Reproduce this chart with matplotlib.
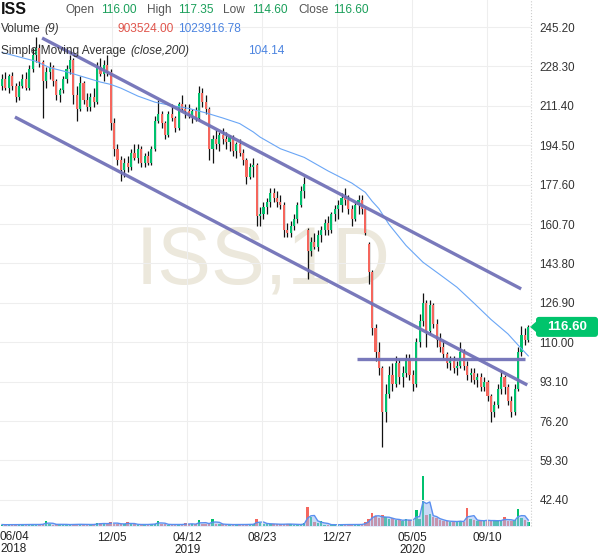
import matplotlib
matplotlib.use('Agg')
import matplotlib.pyplot as plt
from matplotlib.patches import FancyBboxPatch, Polygon
from matplotlib.transforms import IdentityTransform
import numpy as np
import pandas as pd

plt.rcParams['font.family'] = ['Liberation Sans', 'DejaVu Sans']

# ISS, one candle per ~4 trading days, 06/2018 - 11/2020
opens = [220, 223, 219, 224, 220, 215, 220, 223, 219, 227, 233, 236, 230, 222, 226, 228, 222, 216, 218, 223,
         227, 231, 216, 210, 221, 214, 211, 215, 213, 228, 225, 229, 226, 204, 193, 188, 184, 187, 185, 191,
         189, 193, 187, 190, 187, 193, 205, 208, 204, 199, 208, 206, 202, 212, 210, 209, 207, 209, 206, 217,
         213, 210, 193, 197, 195, 199, 197, 196, 198, 192, 195, 191, 188, 181, 185, 186, 164, 165, 168, 170,
         174, 172, 170, 169, 158, 157, 160, 163, 169, 175, 158, 149, 153, 151, 156, 158, 161, 158, 165, 167,
         169, 172, 171, 167, 163, 169, 171, 167, 152, 140, 116, 106, 99, 80, 88, 96, 92, 101, 95, 97,
         103, 96, 92, 110, 119, 127, 115, 126, 118, 111, 108, 105, 101, 102, 99, 100, 106, 100, 96, 97,
         94, 95, 91, 93, 87, 80, 83, 90, 95, 91, 85, 80, 90, 106, 113, 111]
highs = [225, 226, 225, 226, 221, 222, 225, 226, 229, 236, 241, 238, 231, 228, 230, 229, 223, 219, 224, 229,
         233, 232, 220, 224, 222, 217, 217, 219, 230, 232, 231, 233, 227, 206, 195, 190, 189, 190, 193, 195,
         195, 194, 191, 192, 194, 207, 214, 209, 205, 209, 212, 207, 213, 216, 212, 212, 210, 211, 220, 219,
         216, 211, 199, 201, 200, 202, 200, 199, 199, 196, 197, 193, 189, 187, 189, 187, 168, 170, 172, 176,
         176, 175, 173, 170, 161, 162, 165, 170, 177, 181, 159, 155, 157, 158, 160, 163, 164, 166, 169, 171,
         174, 176, 173, 169, 170, 173, 173, 168, 153, 141, 118, 110, 100, 92, 100, 101, 104, 103, 100, 105,
         105, 98, 112, 122, 131, 128, 128, 127, 120, 114, 111, 106, 104, 104, 102, 110, 107, 102, 99, 99,
         97, 97, 95, 94, 88, 85, 92, 98, 96, 92, 87, 92, 108, 117, 116, 117.35]
lows = [218, 218, 217, 218, 213, 214, 219, 218, 218, 226, 230, 228, 206, 219, 223, 220, 214, 213, 217, 221,
        225, 212, 205, 209, 212, 209, 209, 211, 212, 224, 222, 224, 201, 190, 186, 179, 181, 183, 184, 188,
        187, 185, 185, 186, 186, 192, 204, 202, 197, 198, 205, 200, 201, 209, 206, 206, 204, 205, 205, 211,
        208, 188, 187, 193, 192, 195, 193, 192, 190, 189, 190, 186, 178, 180, 181, 160, 160, 163, 165, 168,
        170, 168, 167, 155, 155, 155, 158, 161, 168, 172, 137, 147, 150, 149, 153, 156, 156, 157, 162, 163,
        166, 169, 165, 160, 162, 165, 165, 156, 135, 113, 102, 96, 65, 76, 86, 89, 91, 92, 91, 95,
        94, 89, 91, 108, 117, 108, 113, 116, 108, 106, 103, 99, 98, 97, 96, 99, 98, 94, 93, 92,
        91, 89, 89, 85, 76, 78, 82, 88, 88, 83, 78, 79, 89, 104, 109, 110]
closes = [223, 219, 224, 220, 215, 220, 223, 219, 227, 233, 236, 230, 222, 226, 228, 222, 216, 218, 223, 227,
          231, 216, 210, 221, 214, 211, 215, 213, 228, 225, 229, 226, 204, 193, 188, 184, 187, 185, 191, 189,
          193, 187, 190, 187, 193, 205, 208, 204, 199, 208, 206, 202, 212, 210, 209, 207, 209, 206, 217, 213,
          210, 193, 197, 195, 199, 197, 196, 198, 192, 195, 191, 188, 181, 185, 186, 164, 165, 168, 170, 174,
          172, 170, 169, 158, 157, 160, 163, 169, 175, 178, 149, 153, 151, 156, 158, 161, 158, 165, 167, 169,
          172, 171, 167, 163, 169, 171, 167, 157, 140, 116, 106, 99, 80, 88, 96, 92, 101, 95, 97, 103,
          96, 92, 110, 119, 127, 115, 126, 118, 111, 108, 105, 101, 102, 99, 100, 106, 100, 96, 97, 94,
          95, 91, 93, 87, 80, 83, 90, 95, 91, 85, 80, 90, 106, 113, 111, 116.6]
# volume in millions of shares
volumes = [0.3, 0.25, 0.3, 0.3, 0.25, 0.3, 0.3, 0.3, 0.35, 0.3, 0.3, 0.35, 0.4, 1.0, 0.4, 0.3, 0.35, 0.4, 0.3, 0.3,
           0.3, 0.35, 0.3, 0.4, 0.3, 0.3, 0.35, 0.3, 0.55, 0.6, 0.4, 0.5, 0.8, 0.5, 0.5, 0.4, 0.4, 0.8, 0.4, 0.35,
           0.3, 0.3, 0.35, 0.3, 0.4, 0.5, 1.0, 0.4, 0.35, 0.3, 0.3, 0.35, 0.3, 0.3, 0.55, 0.4, 0.4, 0.35, 1.2, 0.5,
           0.4, 0.6, 1.4, 0.5, 0.4, 0.35, 0.3, 0.3, 0.3, 0.3, 0.3, 0.35, 0.3, 0.35, 0.4, 1.4, 0.6, 0.5, 0.5, 0.4,
           0.4, 0.35, 0.35, 0.4, 0.45, 0.35, 0.3, 0.3, 0.35, 0.6, 4.0, 1.8, 0.8, 0.6, 1.0, 0.3, 0.3, 0.25, 0.25, 0.3,
           0.3, 0.3, 0.3, 0.3, 0.3, 0.3, 0.35, 0.8, 1.5, 2.8, 2.0, 1.6, 2.2, 1.8, 1.5, 1.6, 1.2, 1.3, 1.1, 1.4,
           1.2, 1.0, 3.4, 1.5, 10.4, 2.2, 2.5, 1.8, 1.6, 1.2, 1.1, 1.0, 0.9, 1.0, 0.9, 1.1, 0.8, 3.8, 1.5, 1.2,
           1.0, 1.2, 1.1, 1.3, 1.0, 1.1, 1.2, 1.1, 1.8, 1.1, 1.0, 1.3, 3.6, 1.6, 1.2, 0.9]

# 200-day simple moving average, read at candle positions
sma_pos = [0, 10, 14, 19, 24, 29, 32, 35, 40, 45, 50, 55, 60, 65, 70, 74, 76, 82, 89, 96, 103,
           107, 109, 111, 114, 119, 124, 129, 134, 139, 144, 149, 152, 155]
sma_val = [234.3, 230.5, 227.8, 226.0, 223.8, 221.6, 220.6, 219.0, 215.6, 213.0, 211.5, 210.3, 208.4,
           206.2, 203.8, 200.2, 198.0, 193.0, 189.3, 183.5, 178.3, 174.3, 170.5, 167.3, 160.5, 151.5,
           144.3, 139.0, 133.6, 126.8, 119.8, 113.6, 108.8, 104.14]

# drawn trend lines: (candle positions, prices)
upper_x, upper_y = [11.8, 152.9], [240.5, 132.9]
lower_x, lower_y = [3.8, 154.7], [206.6, 91.7]
flat_x, flat_y = [104.6, 154.1], [103.0, 103.0]

# last session shown in the header
last_ohlc = [116.00, 117.35, 114.60, 116.60]
last_vol, last_vol_ma = 903524.00, 1023916.78

price_ticks = [245.20, 228.30, 211.40, 194.50, 177.60, 160.70, 143.80, 126.90, 110.00, 93.10, 76.20, 59.30, 42.40]
date_pos = [32.4, 54.5, 76.6, 98.7, 120.8, 142.9]
date_labels = ['12/05', '04/12\n2019', '08/23', '12/27', '05/05\n2020', '09/10']
first_label = '06/04\n2018'

UP = '#00c16e'
DOWN = '#f5665d'
TXT_GREEN = '#1a9f5a'
TXT_RED = '#e0554c'
TXT_BLUE = '#4c84e0'

W, H = 600, 558
fig = plt.figure(figsize=(W / 100, H / 100), dpi=100)
ax = fig.add_axes([0, 32 / H, 531 / W, 526 / H])
vax = ax.twinx()
ax.set_zorder(2)
ax.patch.set_visible(False)

x = np.arange(len(closes))
o = np.array(opens, float)
c = np.array(closes, float)
up = c >= o
cols = np.where(up, UP, DOWN)

# volume + its moving average
vol = np.array(volumes)
vax.bar(x, vol, width=0.75, color=cols, linewidth=0)
vma = pd.Series(vol).rolling(3, min_periods=1).mean()
vax.fill_between(x, 0, vma, color='#9dbdf2', alpha=0.55, linewidth=0)
vax.plot(x, vma, color='#5a8ff0', lw=1.0)
vax.set_ylim(0, 110)
vax.set_yticks([])
for s in vax.spines.values():
    s.set_visible(False)

# watermark
ax.text(0.495, 0.5, 'ISS,1D', transform=ax.transAxes, ha='center', va='center',
        fontsize=58, color='#ece8dc', zorder=0)

# candles
ax.vlines(x, lows, highs, color='#111111', lw=0.9, zorder=3)
body = np.maximum(np.abs(c - o), 0.4)
ax.bar(x, body, bottom=np.minimum(o, c), width=0.62, color=cols, linewidth=0, zorder=4)

# SMA and drawn lines
ax.plot(sma_pos, sma_val, color='#6aa6f6', lw=0.8, zorder=5)
for lx, ly in [(upper_x, upper_y), (lower_x, lower_y), (flat_x, flat_y)]:
    ax.plot(lx, ly, color='#7272b8', lw=2.4, alpha=0.95, solid_capstyle='butt', zorder=6)

ax.set_xlim(-0.6, 155.8)
ax.set_ylim(31.2, 256.8)
ax.grid(color='#eeeeee', lw=0.8)
ax.set_axisbelow(True)
for s in ax.spines.values():
    s.set_visible(False)
ax.plot([1, 1], [0, 1], transform=ax.transAxes, color='#cccccc', lw=0.8, ls=':', clip_on=False)

ax.yaxis.tick_right()
ax.set_yticks(price_ticks)
ax.set_yticklabels([f'{v:.2f}' for v in price_ticks])
ax.tick_params(axis='y', length=0, pad=6, labelsize=8.4, labelcolor='#333333')
ax.set_xticks(date_pos)
ax.set_xticklabels(date_labels, linespacing=1.0)
ax.tick_params(axis='x', length=0, pad=4.5, labelsize=8.5, labelcolor='#222222')
fig.text(0.0, 1 - 531 / H, first_label, ha='left', va='top', fontsize=8.5, color='#222222', linespacing=1.0)


def t(xp, yp, s, **kw):
    kw.setdefault('fontsize', 8.6)
    fig.text(xp / W, 1 - yp / H, s, va='center', ha='left', **kw)


# header
t(1, 9, 'ISS', fontsize=11.5, fontweight='bold', color='#111111')
for xl, xv, name, val in zip([65, 147, 223, 298], [101, 178, 252, 333],
                             ['Open', 'High', 'Low', 'Close'], last_ohlc):
    t(xl, 10, name, color='#555555')
    t(xv, 10, f'{val:.2f}', color=TXT_GREEN)
t(1, 29, 'Volume', color='#333333')
t(44, 29, '(9)', color='#333333', style='italic')
t(118, 29, f'{last_vol:.2f}', color=TXT_RED)
t(178, 29, f'{last_vol_ma:.2f}', color=TXT_BLUE)
t(1, 51, 'Simple Moving Average', color='#333333')
t(130, 51, '(close,200)', color='#333333', style='italic')
t(248, 51, f'{sma_val[-1]:.2f}', color=TXT_BLUE)

# last price tag
_, py = ax.transData.transform((0, closes[-1]))
fig.add_artist(FancyBboxPatch((536, py - 10), 62, 20, boxstyle='round,pad=0,rounding_size=3',
                              transform=IdentityTransform(), fc='#00c46c', ec='none'))
fig.add_artist(Polygon([[530, py], [537, py - 6], [537, py + 6]], closed=True,
                       transform=IdentityTransform(), fc='#00c46c', ec='none'))
fig.text(567 / W, py / H, f'{closes[-1]:.2f}', ha='center', va='center', color='white',
         fontsize=9.5, fontweight='bold')

fig.savefig('out.png', dpi=100)
